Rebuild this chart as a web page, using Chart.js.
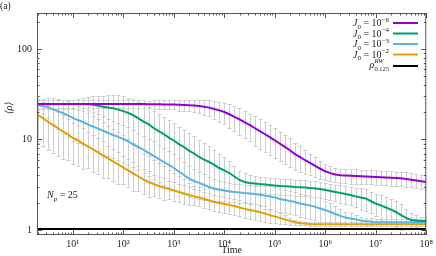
<!DOCTYPE html>
<html>
<head>
<meta charset="utf-8">
<script src="https://cdn.jsdelivr.net/npm/chart.js@4/dist/chart.umd.min.js"></script>
<style>
html, body { margin: 0; padding: 0; background: #fff; }
</style>
</head>
<body>
<canvas id="chart" width="436" height="256"></canvas>
<script>
// time grid: 10 samples per decade, from 10^0.3 up to 10^8
const logTimeStart = 0.3;
const logTimeStep = 0.1;

// mean density <rho> for each J0
const rhoJ6 = [
    24.7, 24.7, 24.7, 24.7, 24.7, 24.7, 24.7, 24.7, 24.7, 24.7,
    24.7, 24.7, 24.7, 24.7, 24.7, 24.6, 24.6, 24.6, 24.6, 24.6,
    24.6, 24.6, 24.5, 24.5, 24.5, 24.4, 24.4, 24.3, 24.2, 24.1,
    23.9, 23.7, 23.4, 23.0, 22.5, 21.7, 21.0, 20.1, 19.0, 17.8,
    16.7, 15.6, 14.5, 13.4, 12.4, 11.5, 10.6, 9.8, 9.0, 8.3,
    7.6, 6.9, 6.4, 5.9, 5.5, 5.1, 4.75, 4.45, 4.25, 4.1,
    4.03, 4.0, 3.97, 3.95, 3.93, 3.9, 3.88, 3.85, 3.83, 3.8,
    3.78, 3.75, 3.72, 3.67, 3.6, 3.53, 3.46, 3.4
];
const rhoJ4 = [
    24.7, 24.7, 24.7, 24.7, 24.7, 24.7, 24.7, 24.7, 24.7, 24.7,
    24.6, 24.2, 23.6, 23.0, 22.6, 22.1, 21.4, 20.6, 19.6, 18.5,
    17.1, 15.8, 14.8, 13.4, 12.4, 11.5, 10.5, 9.75, 8.9, 8.26,
    7.55, 7.0, 6.41, 6.0, 5.64, 5.23, 4.84, 4.55, 4.26, 3.9,
    3.57, 3.39, 3.31, 3.27, 3.22, 3.18, 3.14, 3.1, 3.06, 3.04,
    3.02, 2.99, 2.97, 2.95, 2.91, 2.88, 2.84, 2.77, 2.70, 2.63,
    2.56, 2.50, 2.44, 2.35, 2.29, 2.23, 2.09, 1.96, 1.87, 1.77,
    1.68, 1.58, 1.46, 1.36, 1.29, 1.27, 1.26, 1.26
];
const rhoJ3 = [
    24.1, 23.5, 22.9, 21.7, 20.6, 19.6, 18.5, 17.3, 16.4, 15.6,
    14.6, 13.9, 13.2, 12.5, 11.8, 11.2, 10.7, 10.1, 9.5, 8.8,
    8.26, 7.66, 7.1, 6.6, 6.1, 5.64, 5.23, 4.84, 4.43, 4.05,
    3.7, 3.48, 3.31, 3.14, 2.99, 2.88, 2.8, 2.73, 2.66, 2.63,
    2.6, 2.56, 2.53, 2.5, 2.45, 2.4, 2.35, 2.29, 2.2, 2.15,
    2.09, 2.04, 1.96, 1.91, 1.87, 1.8, 1.73, 1.66, 1.58, 1.50,
    1.43, 1.37, 1.34, 1.31, 1.27, 1.26, 1.24, 1.22, 1.22, 1.22,
    1.22, 1.22, 1.22, 1.22, 1.22, 1.22, 1.22, 1.22
];
const rhoJ2 = [
    18.7, 17.3, 15.8, 14.5, 13.4, 12.3, 11.4, 10.4, 9.75, 9.0,
    8.4, 7.75, 7.2, 6.65, 6.17, 5.7, 5.3, 4.9, 4.55, 4.2,
    3.9, 3.61, 3.39, 3.22, 3.06, 2.95, 2.84, 2.73, 2.63, 2.53,
    2.44, 2.35, 2.29, 2.2, 2.12, 2.04, 1.99, 1.94, 1.89, 1.84,
    1.77, 1.71, 1.66, 1.62, 1.58, 1.52, 1.46, 1.41, 1.36, 1.31,
    1.26, 1.22, 1.19, 1.18, 1.16, 1.16, 1.16, 1.16, 1.16, 1.16,
    1.16, 1.16, 1.16, 1.16, 1.16, 1.16, 1.16, 1.16, 1.16, 1.16,
    1.16, 1.16, 1.16, 1.16, 1.16, 1.16, 1.16, 1.16
];

// relative standard deviation (sd / mean) for the error bars
const cvJ6 = [
    0.10, 0.10, 0.10, 0.10, 0.10, 0.10, 0.10, 0.10, 0.10, 0.10,
    0.10, 0.10, 0.10, 0.10, 0.10, 0.10, 0.10, 0.10, 0.10, 0.10,
    0.10, 0.10, 0.10, 0.115, 0.115, 0.115, 0.115, 0.115, 0.14, 0.14,
    0.14, 0.14, 0.16, 0.18, 0.20, 0.23, 0.25, 0.27, 0.29, 0.31,
    0.33, 0.33, 0.33, 0.36, 0.36, 0.36, 0.36, 0.36, 0.36, 0.36,
    0.35, 0.33, 0.31, 0.29, 0.27, 0.25, 0.23, 0.20, 0.19, 0.18,
    0.18, 0.18, 0.18, 0.18, 0.18, 0.18, 0.18, 0.18, 0.18, 0.18,
    0.18, 0.18, 0.18, 0.18, 0.18, 0.18, 0.18, 0.18
];
const cvJ4 = [
    0.115, 0.115, 0.115, 0.115, 0.115, 0.115, 0.115, 0.115, 0.14, 0.16,
    0.20, 0.25, 0.29, 0.33, 0.37, 0.41, 0.44, 0.46, 0.48, 0.50,
    0.53, 0.56, 0.56, 0.56, 0.56, 0.56, 0.56, 0.56, 0.56, 0.56,
    0.56, 0.56, 0.54, 0.53, 0.49, 0.46, 0.43, 0.39, 0.35, 0.31,
    0.27, 0.25, 0.23, 0.22, 0.20, 0.20, 0.20, 0.20, 0.20, 0.20,
    0.20, 0.20, 0.20, 0.20, 0.20, 0.20, 0.20, 0.20, 0.20, 0.20,
    0.23, 0.23, 0.23, 0.23, 0.27, 0.27, 0.27, 0.27, 0.31, 0.31,
    0.31, 0.31, 0.31, 0.25, 0.18, 0.14, 0.115, 0.10
];
const cvJ3 = [
    0.115, 0.18, 0.25, 0.31, 0.37, 0.41, 0.43, 0.44, 0.44, 0.44,
    0.44, 0.44, 0.44, 0.44, 0.44, 0.44, 0.44, 0.44, 0.44, 0.44,
    0.44, 0.44, 0.44, 0.44, 0.44, 0.44, 0.43, 0.43, 0.41, 0.39,
    0.37, 0.35, 0.33, 0.31, 0.29, 0.27, 0.25, 0.23, 0.23, 0.23,
    0.23, 0.23, 0.23, 0.23, 0.25, 0.29, 0.29, 0.29, 0.29, 0.29,
    0.29, 0.29, 0.29, 0.29, 0.29, 0.29, 0.29, 0.27, 0.25, 0.23,
    0.18, 0.16, 0.14, 0.115, 0.09, 0.09, 0.09, 0.09, 0.09, 0.09,
    0.09, 0.09, 0.09, 0.09, 0.09, 0.09, 0.09, 0.09
];
const cvJ2 = [
    0.51, 0.51, 0.51, 0.51, 0.51, 0.51, 0.48, 0.48, 0.48, 0.48,
    0.43, 0.43, 0.43, 0.43, 0.39, 0.39, 0.39, 0.35, 0.35, 0.35,
    0.31, 0.31, 0.31, 0.27, 0.27, 0.27, 0.23, 0.23, 0.23, 0.23,
    0.23, 0.20, 0.20, 0.20, 0.20, 0.20, 0.20, 0.20, 0.20, 0.20,
    0.20, 0.20, 0.20, 0.20, 0.20, 0.20, 0.18, 0.16, 0.14, 0.115,
    0.09, 0.07, 0.046, 0.046, 0.046, 0.046, 0.046, 0.046, 0.046, 0.046,
    0.046, 0.046, 0.046, 0.046, 0.046, 0.046, 0.046, 0.046, 0.046, 0.046,
    0.046, 0.046, 0.046, 0.046, 0.046, 0.046, 0.046, 0.046
];

// random walk reference value rho^RW_0.125
const rhoRW = 1.025;

const seriesExp = ['−6', '−4', '−3', '−2'];
const seriesColors = ['#9400d3', '#009e73', '#56b4e9', '#e69f00'];

const xTickValues = [10, 100, 1e3, 1e4, 1e5, 1e6, 1e7, 1e8];
const xTickLabels = ['10¹', '10²', '10³', '10⁴', '10⁵', '10⁶', '10⁷', '10⁸'];
const yTickValues = [1, 10, 100];
const yTickLabels = ['1', '10', '100'];

const xMin = 1.95, xMax = 1e8, yMin = 0.88, yMax = 250;
const serif = "'Liberation Serif', 'DejaVu Serif', serif";

function toPoints(values) {
    return values.map((v, i) => ({ x: Math.pow(10, logTimeStart + i * logTimeStep), y: v }));
}

const series = [rhoJ6, rhoJ4, rhoJ3, rhoJ2];
const cvs = [cvJ6, cvJ4, cvJ3, cvJ2];

const datasets = series.map((s, k) => ({
    label: 'J0 = 10' + seriesExp[k],
    data: toPoints(s),
    cv: cvs[k],
    borderColor: seriesColors[k],
    borderWidth: 2,
    pointRadius: 0,
    tension: 0
}));
datasets.push({
    label: 'rho RW',
    data: [{ x: xMin, y: rhoRW }, { x: xMax, y: rhoRW }],
    borderColor: '#000',
    borderWidth: 1.8,
    pointRadius: 0
});

// gray error bars with caps, drawn behind the lines
const errorBars = {
    id: 'errorBars',
    beforeDatasetsDraw(chart) {
        const { ctx, chartArea: a, scales: { x, y } } = chart;
        ctx.save();
        ctx.beginPath();
        ctx.rect(a.left, a.top, a.width, a.height);
        ctx.clip();
        ctx.strokeStyle = '#cdcdcd';
        ctx.lineWidth = 1;
        chart.data.datasets.forEach(ds => {
            if (!ds.cv) return;
            ds.data.forEach((p, i) => {
                const sd = p.y * ds.cv[i];
                const px = Math.round(x.getPixelForValue(p.x)) + 0.5;
                const top = Math.round(y.getPixelForValue(p.y + sd)) + 0.5;
                const bot = Math.round(y.getPixelForValue(p.y - sd)) + 0.5;
                ctx.beginPath();
                ctx.moveTo(px, top); ctx.lineTo(px, bot);
                ctx.moveTo(px - 2, top); ctx.lineTo(px + 2, top);
                ctx.moveTo(px - 2, bot); ctx.lineTo(px + 2, bot);
                ctx.stroke();
            });
        });
        ctx.restore();
    }
};

// draw pieces of text (with sub/superscripts) ending at xRight
function richText(ctx, parts, xStart, baseY) {
    let cx = xStart;
    parts.forEach(p => {
        ctx.font = p.font;
        ctx.fillText(p.t, cx, baseY + (p.dy || 0));
        cx += ctx.measureText(p.t).width;
    });
}
function richWidth(ctx, parts) {
    let w = 0;
    parts.forEach(p => { ctx.font = p.font; w += ctx.measureText(p.t).width; });
    return w;
}

const frameAndText = {
    id: 'frameAndText',
    afterDatasetsDraw(chart) {
        const { ctx, chartArea: a, scales: { x, y } } = chart;
        ctx.save();
        // frame with inward ticks on all sides
        ctx.strokeStyle = '#555';
        ctx.lineWidth = 1;
        ctx.strokeRect(a.left + 0.5, a.top + 0.5, a.width - 1, a.height - 1);
        ctx.beginPath();
        for (let e = 0; e <= 8; e++) {
            for (let m = 1; m <= 9; m++) {
                const v = m * Math.pow(10, e);
                if (v < xMin || v > xMax) continue;
                const px = Math.round(x.getPixelForValue(v)) + 0.5;
                const len = m === 1 ? 5 : 2.5;
                ctx.moveTo(px, a.bottom); ctx.lineTo(px, a.bottom - len);
                ctx.moveTo(px, a.top); ctx.lineTo(px, a.top + len);
            }
        }
        for (let e = -1; e <= 2; e++) {
            for (let m = 1; m <= 9; m++) {
                const v = m * Math.pow(10, e);
                if (v < yMin || v > yMax) continue;
                const py = Math.round(y.getPixelForValue(v)) + 0.5;
                const len = m === 1 ? 5 : 2.5;
                ctx.moveTo(a.left, py); ctx.lineTo(a.left + len, py);
                ctx.moveTo(a.right, py); ctx.lineTo(a.right - len, py);
            }
        }
        ctx.stroke();

        // legend, text right aligned and line sample to the right
        ctx.fillStyle = '#222';
        ctx.textBaseline = 'alphabetic';
        const textRight = 389, lineL = 393, lineR = 418;
        const rowY = [22.5, 33, 43.5, 54];
        rowY.forEach((ry, k) => {
            const parts = [
                { t: 'J', font: 'italic 10px ' + serif },
                { t: '0', font: '7px ' + serif, dy: 2.5 },
                { t: ' = 10', font: '10px ' + serif },
                { t: seriesExp[k], font: '7px ' + serif, dy: -4.5 }
            ];
            richText(ctx, parts, textRight - richWidth(ctx, parts), ry + 3.5);
            ctx.strokeStyle = seriesColors[k];
            ctx.lineWidth = 2;
            ctx.beginPath();
            ctx.moveTo(lineL, ry + 0.5); ctx.lineTo(lineR, ry + 0.5);
            ctx.stroke();
        });
        // rho^RW_0.125 row
        ctx.font = '6.5px ' + serif;
        const wSub = ctx.measureText('0.125').width;
        ctx.font = 'italic 6.5px ' + serif;
        const wSup = ctx.measureText('RW').width;
        const wScript = Math.max(wSub, wSup);
        ctx.font = 'italic 10px ' + serif;
        const wRho = ctx.measureText('ρ').width;
        const rhoX = textRight - wScript - wRho;
        ctx.fillText('ρ', rhoX, 68);
        ctx.font = 'italic 6.5px ' + serif;
        ctx.fillText('RW', textRight - wScript, 63);
        ctx.font = '6.5px ' + serif;
        ctx.fillText('0.125', textRight - wScript, 71);
        ctx.strokeStyle = '#000';
        ctx.lineWidth = 2;
        ctx.beginPath();
        ctx.moveTo(lineL, 66); ctx.lineTo(lineR, 66);
        ctx.stroke();

        // N_p = 25
        richText(ctx, [
            { t: 'N', font: 'italic 10px ' + serif },
            { t: 'p', font: 'italic 7px ' + serif, dy: 2.5 },
            { t: ' = 25', font: '10px ' + serif }
        ], 47, 198);

        // panel label
        ctx.font = '9.5px ' + serif;
        ctx.fillText('(a)', 0, 9);

        // y axis label
        ctx.save();
        ctx.translate(12, 108);
        ctx.rotate(-Math.PI / 2);
        ctx.textAlign = 'center';
        ctx.font = 'italic 10px ' + serif;
        ctx.fillText('⟨ρ⟩', 0, 0);
        ctx.restore();
        ctx.restore();
    }
};

const ctx = document.getElementById('chart').getContext('2d');
const chart = new Chart(ctx, {
    type: 'line',
    data: { datasets: datasets },
    plugins: [errorBars, frameAndText],
    options: {
        responsive: false,
        animation: false,
        layout: { padding: { top: 13, right: 7, left: 0, bottom: 0 } },
        plugins: {
            legend: { display: false },
            tooltip: { enabled: false }
        },
        scales: {
            x: {
                type: 'logarithmic',
                min: xMin,
                max: xMax,
                grid: { display: false, drawTicks: false },
                border: { display: false },
                afterBuildTicks: s => { s.ticks = xTickValues.map(v => ({ value: v })); },
                afterFit: s => { s.height = 21; },
                ticks: {
                    autoSkip: false,
                    maxRotation: 0,
                    padding: 3,
                    color: '#222',
                    font: { family: serif, size: 10 },
                    callback: v => xTickLabels[xTickValues.indexOf(v)]
                },
                title: {
                    display: true,
                    text: 'Time',
                    color: '#222',
                    padding: { top: 0, bottom: 0 },
                    font: { family: serif, size: 10 }
                }
            },
            y: {
                type: 'logarithmic',
                min: yMin,
                max: yMax,
                grid: { display: false, drawTicks: false },
                border: { display: false },
                afterBuildTicks: s => { s.ticks = yTickValues.map(v => ({ value: v })); },
                afterFit: s => { s.width = 37; },
                ticks: {
                    padding: 5,
                    color: '#222',
                    font: { family: serif, size: 10 },
                    callback: v => yTickLabels[yTickValues.indexOf(v)]
                }
            }
        }
    }
});
</script>
</body>
</html>
